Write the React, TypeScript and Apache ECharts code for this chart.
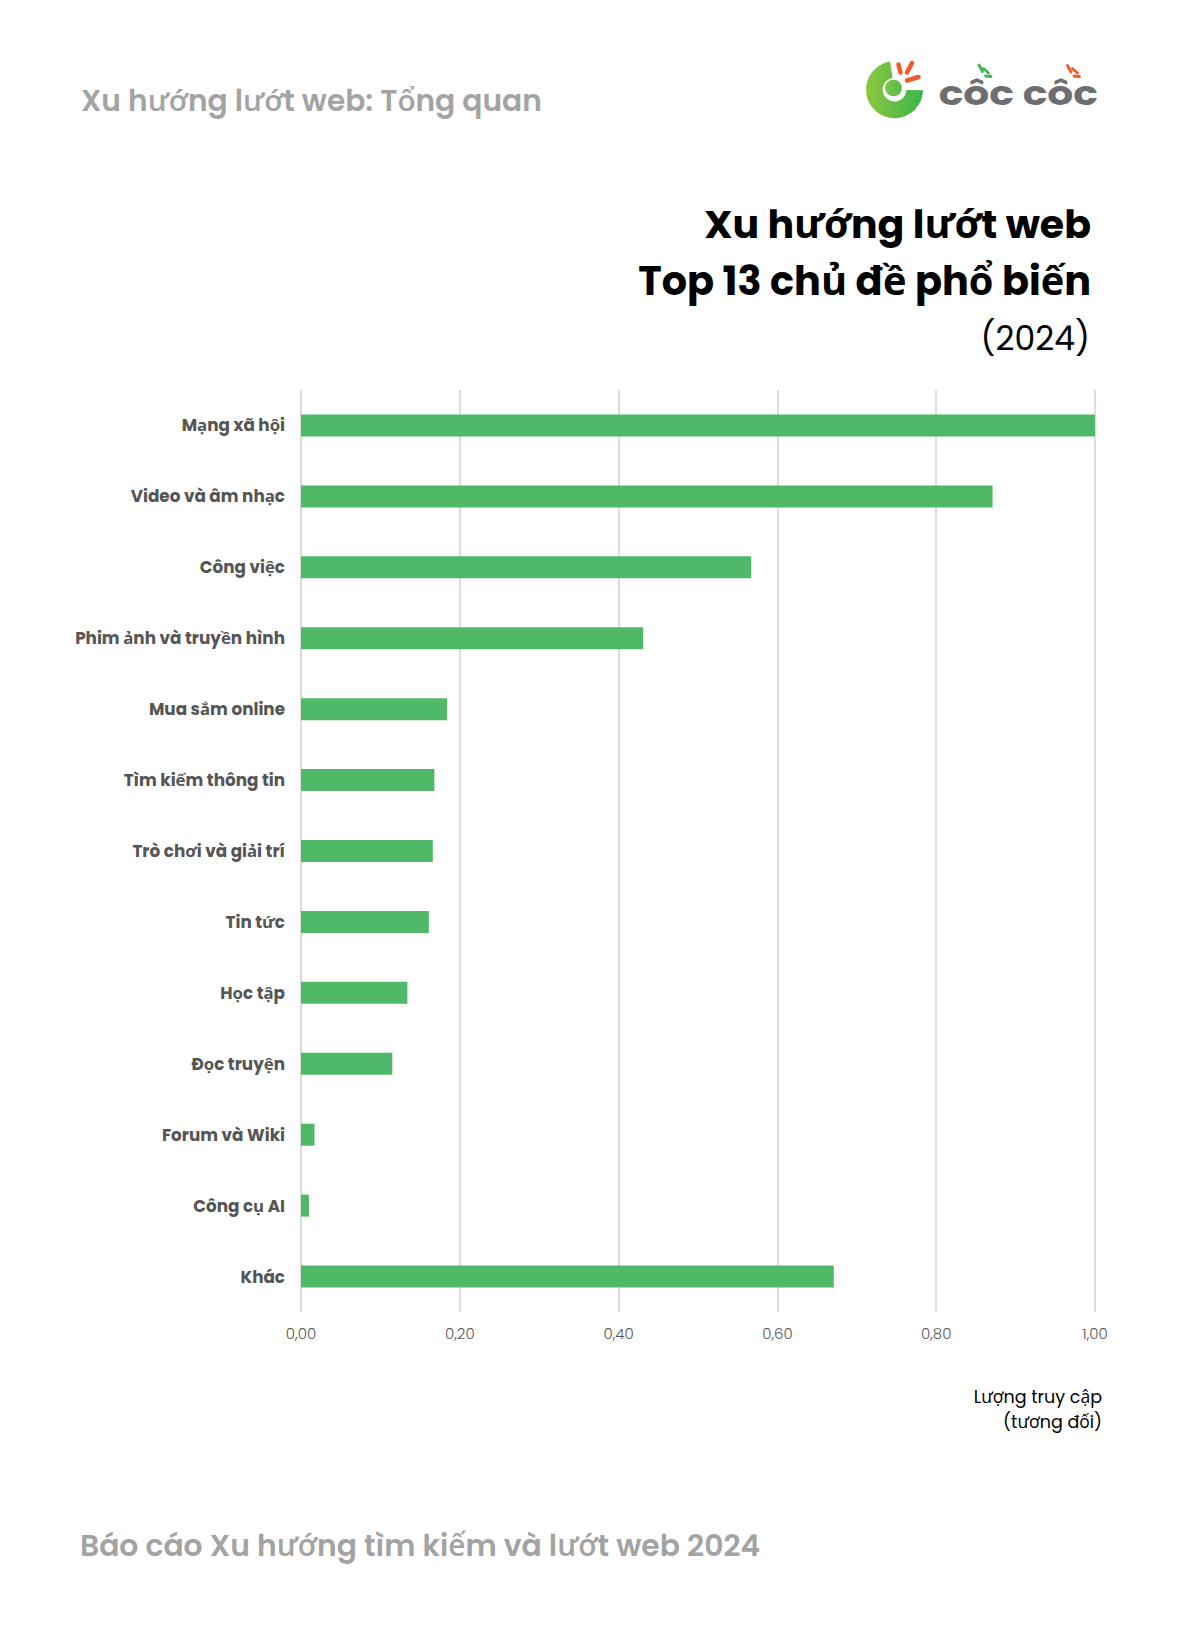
import React, { useEffect, useRef } from "react";
import * as echarts from "echarts";

const categories = [
  "Mạng xã hội",
  "Video và âm nhạc",
  "Công việc",
  "Phim ảnh và truyền hình",
  "Mua sắm online",
  "Tìm kiếm thông tin",
  "Trò chơi và giải trí",
  "Tin tức",
  "Học tập",
  "Đọc truyện",
  "Forum và Wiki",
  "Công cụ AI",
  "Khác",
];
const values = [1.0, 0.871, 0.567, 0.431, 0.184, 0.168, 0.166, 0.161, 0.134, 0.115, 0.017, 0.01, 0.671];
const xTicks = [0, 0.2, 0.4, 0.6, 0.8, 1.0];

const FONT = "Poppins, 'Open Sans', sans-serif";

export default function App() {
  const ref = useRef<HTMLDivElement>(null);
  useEffect(() => {
    document.body.style.margin = "0";
    const chart = echarts.init(ref.current!, null, { renderer: "svg" });
    const green = "#50b968";
    const orange = "#f05a28";
    const rayGreen = "#45b54d";
    const line = (x1: number, y1: number, x2: number, y2: number, c: string, w = 5) => ({
      type: "line",
      shape: { x1, y1, x2, y2 },
      style: { stroke: c, lineWidth: w, lineCap: "round" },
    });
    chart.setOption({
      animation: false,
      backgroundColor: "#ffffff",
      grid: { left: 301, right: 95, top: 390, bottom: 314, containLabel: false },
      xAxis: {
        type: "value",
        min: 0,
        max: xTicks[xTicks.length - 1],
        interval: 0.2,
        axisLine: { show: false },
        axisTick: { show: false },
        splitLine: { show: true, lineStyle: { color: "#dcdcdc", width: 2 } },
        axisLabel: {
          margin: 14,
          fontFamily: FONT,
          fontSize: 15,
          fontWeight: 300,
          color: "#555555",
          formatter: (v: number) => v.toFixed(2).replace(".", ","),
        },
      },
      yAxis: {
        type: "category",
        data: categories,
        inverse: true,
        axisLine: { show: false },
        axisTick: { show: false },
        splitLine: { show: false },
        axisLabel: {
          margin: 16,
          fontFamily: FONT,
          fontSize: 16.8,
          fontWeight: "bold",
          color: "#555555",
        },
      },
      series: [
        {
          type: "bar",
          data: values,
          barWidth: 22,
          itemStyle: { color: green },
        },
      ],
      graphic: [
        {
          type: "text",
          style: {
            text: "Xu hướng lướt web: Tổng quan",
            x: 81,
            y: 100,
            font: `600 29.7px ${FONT}`,
            fill: "#a3a3a3",
            textAlign: "left",
            textVerticalAlign: "middle",
          },
        },
        {
          type: "text",
          style: {
            text: "Xu hướng lướt web",
            x: 1091,
            y: 224,
            font: `bold 39.5px ${FONT}`,
            fill: "#000000",
            textAlign: "right",
            textVerticalAlign: "middle",
          },
        },
        {
          type: "text",
          style: {
            text: "Top 13 chủ đề phổ biến",
            x: 1091,
            y: 281,
            font: `bold 39.8px ${FONT}`,
            fill: "#000000",
            textAlign: "right",
            textVerticalAlign: "middle",
          },
        },
        {
          type: "text",
          style: {
            text: "(2024)",
            x: 1090,
            y: 338,
            font: `normal 33px ${FONT}`,
            fill: "#000000",
            textAlign: "right",
            textVerticalAlign: "middle",
          },
        },
        {
          type: "text",
          style: {
            text: "Lượng truy cập",
            x: 1102,
            y: 1397,
            font: `normal 17.5px ${FONT}`,
            fill: "#000000",
            textAlign: "right",
            textVerticalAlign: "middle",
          },
        },
        {
          type: "text",
          style: {
            text: "(tương đối)",
            x: 1102,
            y: 1422,
            font: `normal 17.5px ${FONT}`,
            fill: "#000000",
            textAlign: "right",
            textVerticalAlign: "middle",
          },
        },
        {
          type: "text",
          style: {
            text: "Báo cáo Xu hướng tìm kiếm và lướt web 2024",
            x: 80,
            y: 1545,
            font: `600 29.8px ${FONT}`,
            fill: "#a3a3a3",
            textAlign: "left",
            textVerticalAlign: "middle",
          },
        },
        // Logo
        {
          type: "sector",
          shape: { cx: 894.5, cy: 89.7, r: 28.5, r0: 11.8, startAngle: 0.02, endAngle: Math.PI * 1.45, clockwise: true },
          style: {
            fill: new echarts.graphic.LinearGradient(0, 0, 1, 0, [
              { offset: 0, color: "#8dc63f" },
              { offset: 1, color: "#3cb54a" },
            ]),
          },
        },
        {
          type: "circle",
          shape: { cx: 893.5, cy: 88, r: 8.3 },
          style: {
            fill: new echarts.graphic.LinearGradient(0, 0, 1, 0, [
              { offset: 0, color: "#7cc444" },
              { offset: 1, color: "#55b94b" },
            ]),
          },
        },
        line(898.5, 64.5, 900.5, 72.5, orange, 4.5),
        line(912, 63, 907, 72.5, orange, 4.5),
        line(907, 80.5, 918.5, 77, orange, 4.5),
        {
          type: "text",
          x: 1098,
          y: 110.2,
          scaleX: 1.2,
          style: {
            text: "côc côc",
            x: 0,
            y: 0,
            font: `bold 34px ${FONT}`,
            fill: "#6d6e71",
            textAlign: "right",
            textVerticalAlign: "bottom",
          },
        },
        line(979, 65, 982.5, 71.5, rayGreen, 2.8),
        line(983.5, 68.5, 988.5, 73, rayGreen, 2.8),
        line(985.5, 76, 991, 76.5, rayGreen, 2.8),
        line(1067.5, 65.5, 1071, 72, orange, 2.8),
        line(1072.5, 68.5, 1077.5, 73, orange, 2.8),
        line(1074, 76, 1079.5, 76.5, orange, 2.8),
      ],
    });
    return () => chart.dispose();
  }, []);
  return <div ref={ref} style={{ width: 1190, height: 1626 }} />;
}
